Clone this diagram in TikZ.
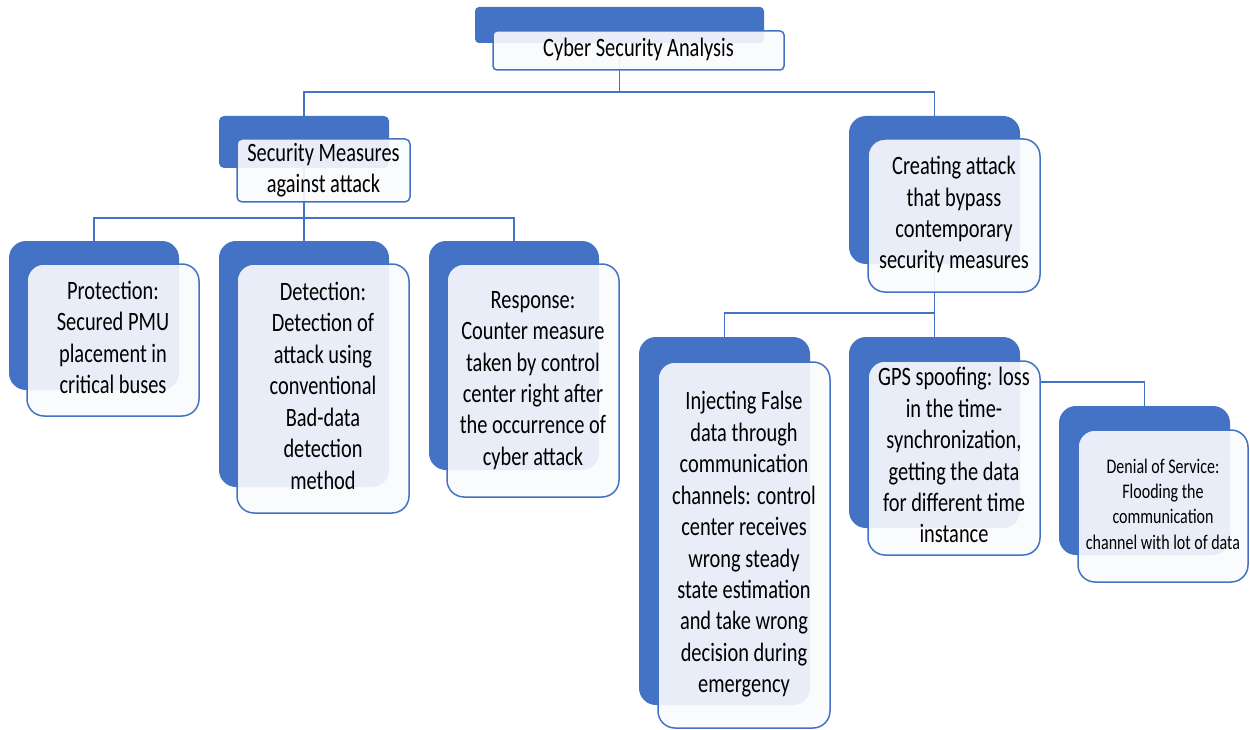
\documentclass[tikz,border=0pt]{standalone}
\usepackage{fontspec}
\setmainfont{Carlito}
\usepackage{graphicx}
\definecolor{cblue}{RGB}{68,114,196}
\definecolor{cfront}{RGB}{250,251,253}
% multi-line centred labels, set a little taller than wide
\newcommand\bodytext[1]{\raisebox{-2pt}{\scalebox{1}[1.3]{\fontsize{20.4}{24.2}\selectfont\begin{tabular}{@{}c@{}}#1\end{tabular}}}}
\newcommand\smalltext[1]{\scalebox{1}[1.3]{\fontsize{16}{19.5}\selectfont\begin{tabular}{@{}c@{}}#1\end{tabular}}}
\pgfdeclarelayer{bg}
\pgfsetlayers{bg,main}
\begin{document}
\begin{tikzpicture}[x=1pt,y=-1pt,
  backbox/.style={draw=none, fill=cblue, rounded corners=17pt, inner sep=0pt, outer sep=0pt, anchor=north west},
  frontbox/.style={draw=cblue, line width=1.5pt, fill=cfront, fill opacity=0.9, text opacity=1,
    rounded corners=17pt, inner sep=0pt, outer sep=0pt, anchor=north west, text=black},
  conn/.style={draw=cblue, line width=1.8pt}]
\useasboundingbox (0,0) rectangle (1250,730);

% root
\node[backbox, rounded corners=4pt, minimum width=289pt, minimum height=36pt] (tb) at (475,7) {};
\node[frontbox, rounded corners=4pt, minimum width=291pt, minimum height=39pt] (tf) at (493,31) {\bodytext{Cyber Security Analysis}};

% second level
\node[backbox, rounded corners=5pt, minimum width=170pt, minimum height=52pt] (sb) at (219,116) {};
\node[frontbox, rounded corners=5pt, minimum width=173pt, minimum height=56pt] (sf) at (237,139) {\bodytext{Security Measures\\against attack}};

\node[backbox, minimum width=171pt, minimum height=148pt] (cb) at (849,116) {};
\node[frontbox, minimum width=172pt, minimum height=153pt] (cf) at (868,139) {\bodytext{Creating attack\\that bypass\\contemporary\\security measures}};

% security measures
\node[backbox, minimum width=170pt, minimum height=149pt] (pb) at (9,241) {};
\node[frontbox, minimum width=172pt, minimum height=152pt] (pf) at (27,264) {\bodytext{Protection:\\Secured PMU\\placement in\\critical buses}};

\node[backbox, minimum width=170pt, minimum height=246pt] (db) at (219,241) {};
\node[frontbox, minimum width=172pt, minimum height=249pt] (df) at (237,264) {\bodytext{Detection:\\Detection of\\attack using\\conventional\\Bad-data\\detection\\method}};

\node[backbox, minimum width=170pt, minimum height=229pt] (rb) at (429,241) {};
\node[frontbox, minimum width=172pt, minimum height=233pt] (rf) at (447,264) {\bodytext{Response:\\Counter measure\\taken by control\\center right after\\the occurrence of\\cyber attack}};

% attacks
\node[backbox, minimum width=171pt, minimum height=368pt] (ib) at (639,337) {};
\node[frontbox, minimum width=172pt, minimum height=366pt] (if) at (658,362) {\bodytext{Injecting False\\data through\\communication\\channels: control\\center receives\\wrong steady\\state estimation\\and take wrong\\decision during\\emergency}};

\node[backbox, minimum width=171pt, minimum height=191pt] (gb) at (849,337) {};
\node[frontbox, minimum width=172pt, minimum height=194pt] (gf) at (868,361) {\bodytext{GPS spoofing: loss\\in the time-\\synchronization,\\getting the data\\for different time\\instance}};

\node[backbox, minimum width=171pt, minimum height=149pt] (ob) at (1059,406) {};
\node[frontbox, minimum width=170pt, minimum height=152pt] (of) at (1078,430) {\smalltext{Denial of Service:\\Flooding the\\communication\\channel with lot of data}};

% white page and connectors, kept behind the boxes
\begin{pgfonlayer}{bg}
\fill[white] (0,0) rectangle (1250,730);
\draw[conn] (tb.south) -- ++(0,49) coordinate (j1);
\draw[conn] (j1) -| (sb.north);
\draw[conn] (j1) -| (cb.north);
\draw[conn] (sb.south) -- ++(0,50) coordinate (j2);
\draw[conn] (j2) -| (pb.north);
\draw[conn] (j2) -- (db.north);
\draw[conn] (j2) -| (rb.north);
\draw[conn] (cb.south) -- ++(0,49) coordinate (j3);
\draw[conn] (j3) -| (ib.north);
\draw[conn] (j3) -- (gb.north);
\draw[conn] (gf.north east) ++(0,21) coordinate (gpsout) -| (ob.north);
\end{pgfonlayer}
\end{tikzpicture}
\end{document}
